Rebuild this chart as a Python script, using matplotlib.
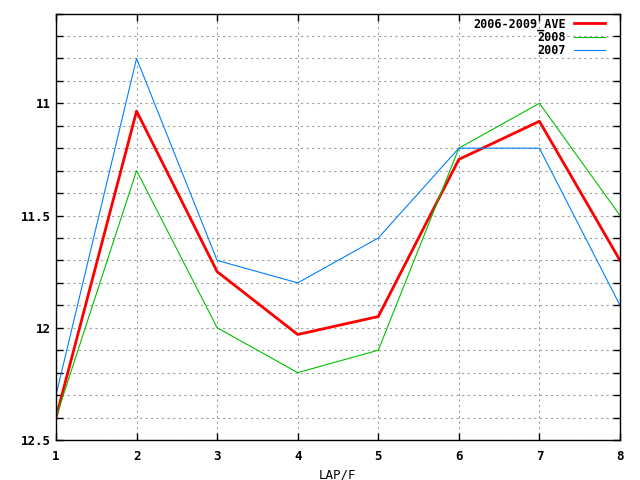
import matplotlib.pyplot as plt
from matplotlib.ticker import MultipleLocator

laps = [1, 2, 3, 4, 5, 6, 7, 8]
ave_2006_2009 = [12.40, 11.035, 11.75, 12.03, 11.95, 11.25, 11.08, 11.70]
times_2008 = [12.40, 11.30, 12.00, 12.20, 12.10, 11.20, 11.00, 11.50]
times_2007 = [12.30, 10.80, 11.70, 11.80, 11.60, 11.20, 11.20, 11.90]

plt.rcParams['font.family'] = 'DejaVu Sans Mono'
plt.rcParams['font.weight'] = 'bold'
plt.rcParams['font.size'] = 9

fig = plt.figure(figsize=(6.4, 4.8), dpi=100)
ax = fig.add_axes([56 / 640, 40 / 480, 564 / 640, 426.5 / 480])

ax.plot(laps, ave_2006_2009, color='#ff0000', linewidth=2, label='2006-2009_AVE')
ax.plot(laps, times_2008, color='#00c000', linewidth=0.8, label='2008')
ax.plot(laps, times_2007, color='#0080ff', linewidth=0.8, label='2007')

ax.set_xlim(1, 8)
ax.set_ylim(12.5, 10.6)
ax.xaxis.set_major_locator(MultipleLocator(1))
ax.yaxis.set_major_locator(MultipleLocator(0.5))
ax.yaxis.set_minor_locator(MultipleLocator(0.1))
ax.yaxis.set_major_formatter(plt.FuncFormatter(lambda v, p: f'{v:g}'))

ax.grid(True, which='both', linestyle=(0, (2, 3)), color='#a0a0a0', linewidth=0.8)
ax.tick_params(which='both', direction='in', top=True, right=True, length=5, width=1)
ax.tick_params(axis='x', pad=7)
for spine in ax.spines.values():
    spine.set_linewidth(1)

ax.set_xlabel('LAP/F', labelpad=4)

ax.legend(loc='upper right', frameon=False, markerfirst=False, handlelength=2.6,
          bbox_to_anchor=(1 - 8 / 564, 1 + 3 / 426.5), prop={'size': 8.5, 'weight': 'bold'},
          borderaxespad=0.2, labelspacing=0.0, handletextpad=0.7)

fig.savefig('out.png', dpi=100)
